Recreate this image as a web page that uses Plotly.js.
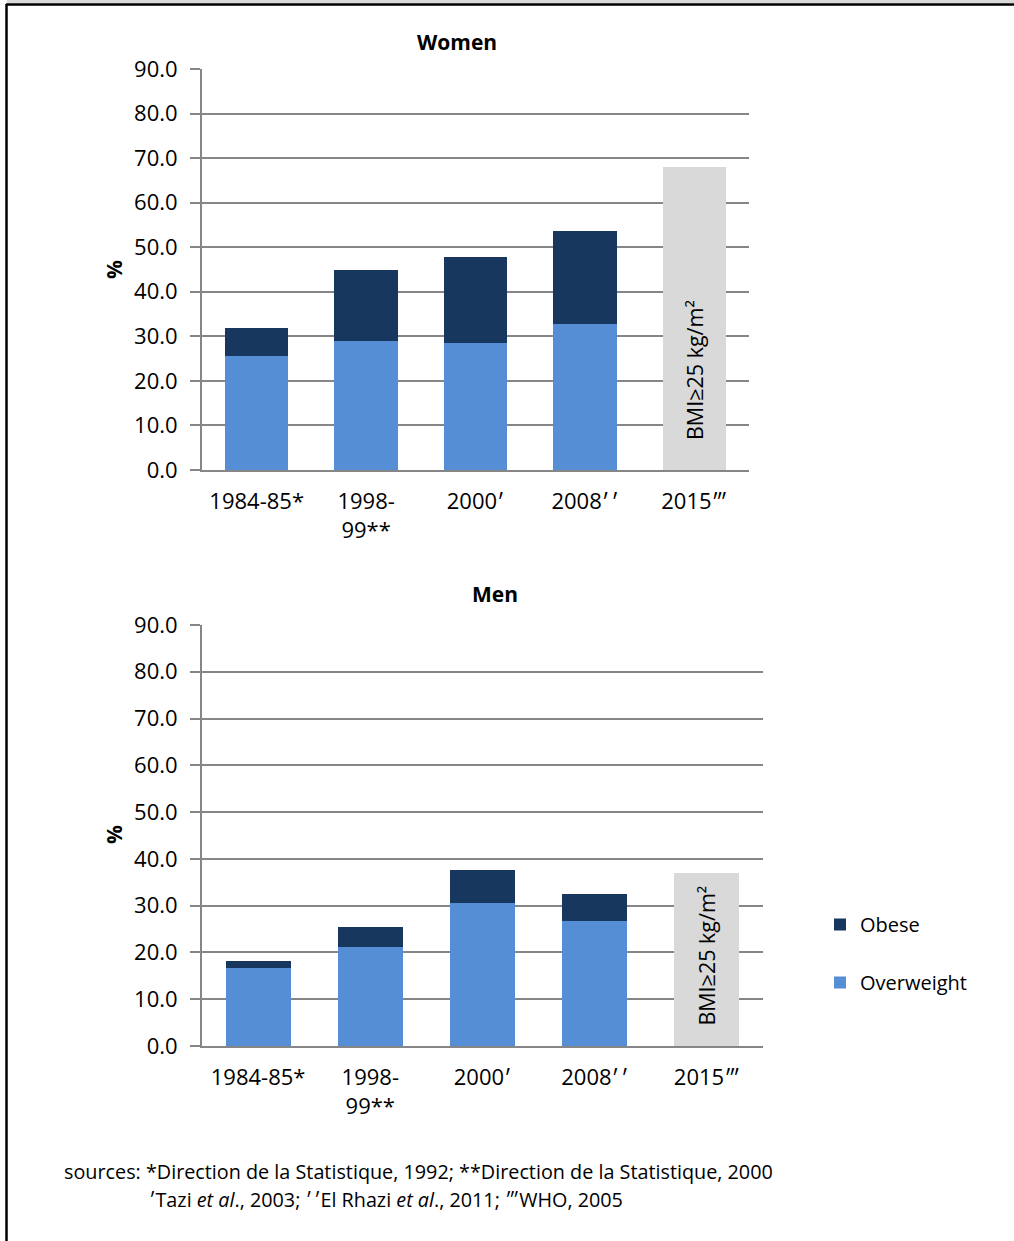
<!DOCTYPE html>
<html>
<head>
<meta charset="utf-8">
<script src="https://cdn.plot.ly/plotly-3.0.1.min.js"></script>
<style>
html,body{margin:0;padding:0;background:#fff;}
#chart{width:1014px;height:1241px;}
</style>
</head>
<body>
<div id="chart"></div>
<script>
// ---- data ----
const categories = ["1984-85*", "1998-<br>99**", "2000ʹ", "2008ʹ\u200Aʹ", "2015‴"];
const womenOverweight = [25.6, 29.0, 28.5, 32.8, null];
const womenObese      = [6.3, 15.9, 19.3, 20.8, null];
const womenBMI25      = [null, null, null, null, 68.0];
const menOverweight   = [16.6, 21.2, 30.6, 26.7, null];
const menObese        = [1.6, 4.2, 7.0, 5.8, null];
const menBMI25        = [null, null, null, null, 37.0];
const yTickVals  = [0, 10, 20, 30, 40, 50, 60, 70, 80, 90];
const yTickText  = ["0.0","10.0","20.0","30.0","40.0","50.0","60.0","70.0","80.0","90.0"];
const bmiLabel   = "BMI≥25 kg/m²";
const bmiLabelY  = [22.5, 19.3];
const seriesNames = ["Overweight", "Obese"];

// ---- styles ----
const W = 1014, H = 1241;
const FONT = "'Open Sans', Lato, sans-serif";
const cOver = "#558ed5", cObese = "#17375e", cGrey = "#d9d9d9";
const px = v => v / W, py = v => 1 - v / H;

function barTrace(name, y, color, xa, ya, showlegend, rank) {
  return {type: "bar", name: name, x: categories, y: y, xaxis: xa, yaxis: ya,
    marker: {color: color, line: {width: 0}}, showlegend: showlegend,
    legendgroup: name, legendrank: rank, hoverinfo: "skip"};
}

const traces = [
  barTrace(seriesNames[0], womenOverweight, cOver, "x", "y", false, 2),
  barTrace(seriesNames[1], womenObese, cObese, "x", "y", false, 1),
  barTrace("BMI", womenBMI25, cGrey, "x", "y", false, 3),
  barTrace(seriesNames[0], menOverweight, cOver, "x2", "y2", true, 2),
  barTrace(seriesNames[1], menObese, cObese, "x2", "y2", true, 1),
  barTrace("BMI", menBMI25, cGrey, "x2", "y2", false, 3)
];

const tickFont = {family: FONT, size: 22, color: "#000"};
const yaxisBase = {
  range: [0, 90], tickvals: yTickVals, ticktext: yTickText,
  showgrid: true, gridcolor: "#868686", gridwidth: 2,
  showline: true, linecolor: "#868686", linewidth: 2,
  ticks: "outside", ticklen: 10, tickcolor: "#868686", tickwidth: 2,
  ticklabelstandoff: 8, zeroline: false,
  tickfont: tickFont, fixedrange: true
};
const xaxisBase = {
  type: "category", showline: true, linecolor: "#868686", linewidth: 2,
  ticks: "", showgrid: false, ticklabelstandoff: 11,
  tickfont: tickFont, fixedrange: true
};

const titleFont = {family: FONT, size: 21, color: "#000"};
const bmiFont = {family: FONT, size: 21.5, color: "#000"};
const srcFont = {family: FONT, size: 19.8, color: "#000"};
const annotations = [
  {text: "<b>Women</b>", x: px(457), y: py(42), xref: "paper", yref: "paper", xanchor: "center", yanchor: "middle", showarrow: false, font: titleFont},
  {text: "<b>Men</b>", x: px(495), y: py(594), xref: "paper", yref: "paper", xanchor: "center", yanchor: "middle", showarrow: false, font: titleFont},
  {text: "<b>%</b>", x: px(114), y: py(270), xref: "paper", yref: "paper", xanchor: "center", yanchor: "middle", showarrow: false, textangle: -90, font: titleFont},
  {text: "<b>%</b>", x: px(114), y: py(835), xref: "paper", yref: "paper", xanchor: "center", yanchor: "middle", showarrow: false, textangle: -90, font: titleFont},
  {text: bmiLabel, x: categories[4], y: bmiLabelY[0], xref: "x", yref: "y", showarrow: false, textangle: -90, font: bmiFont},
  {text: bmiLabel, x: categories[4], y: bmiLabelY[1], xref: "x2", yref: "y2", showarrow: false, textangle: -90, font: bmiFont},
  {text: "sources: *Direction de la Statistique, 1992; **Direction de la Statistique, 2000",
   x: px(62), y: py(1171), xref: "paper", yref: "paper", xanchor: "left", yanchor: "middle", showarrow: false,
   font: srcFont},
  {text: "ʹTazi <i>et al</i>., 2003; ʹ\u200AʹEl Rhazi <i>et al</i>., 2011; ‴WHO, 2005",
   x: px(147), y: py(1199), xref: "paper", yref: "paper", xanchor: "left", yanchor: "middle", showarrow: false,
   font: srcFont}
];

const shapes = [
  {type: "rect", xref: "paper", yref: "paper", x0: px(7), x1: 1, y0: py(3), y1: 1, fillcolor: "#d9d9d9", line: {width: 0}, layer: "below"},
  {type: "line", xref: "paper", yref: "paper", x0: px(6), x1: 1, y0: py(4.5), y1: py(4.5), line: {color: "#000", width: 2.5}},
  {type: "line", xref: "paper", yref: "paper", x0: px(6.5), x1: px(6.5), y0: py(4), y1: 0, line: {color: "#000", width: 2.5}}
];

const layout = {
  width: W, height: H, margin: {l: 0, r: 0, t: 0, b: 0},
  paper_bgcolor: "#fff", plot_bgcolor: "#fff",
  barmode: "stack", bargap: 0.42,
  xaxis: Object.assign({}, xaxisBase, {domain: [px(202), px(749)], anchor: "y"}),
  yaxis: Object.assign({}, yaxisBase, {domain: [py(470), py(69)], anchor: "x"}),
  xaxis2: Object.assign({}, xaxisBase, {domain: [px(202), px(763)], anchor: "y2"}),
  yaxis2: Object.assign({}, yaxisBase, {domain: [py(1046), py(625)], anchor: "x2"}),
  legend: {x: px(820), y: py(905), xanchor: "left", yanchor: "top",
    traceorder: "grouped", tracegroupgap: 29, itemwidth: 30,
    font: {family: FONT, size: 20, color: "#000"},
    bgcolor: "rgba(0,0,0,0)"},
  annotations: annotations, shapes: shapes,
  font: {family: FONT}
};

Plotly.newPlot("chart", traces, layout, {displayModeBar: false, staticPlot: true});
</script>
</body>
</html>
